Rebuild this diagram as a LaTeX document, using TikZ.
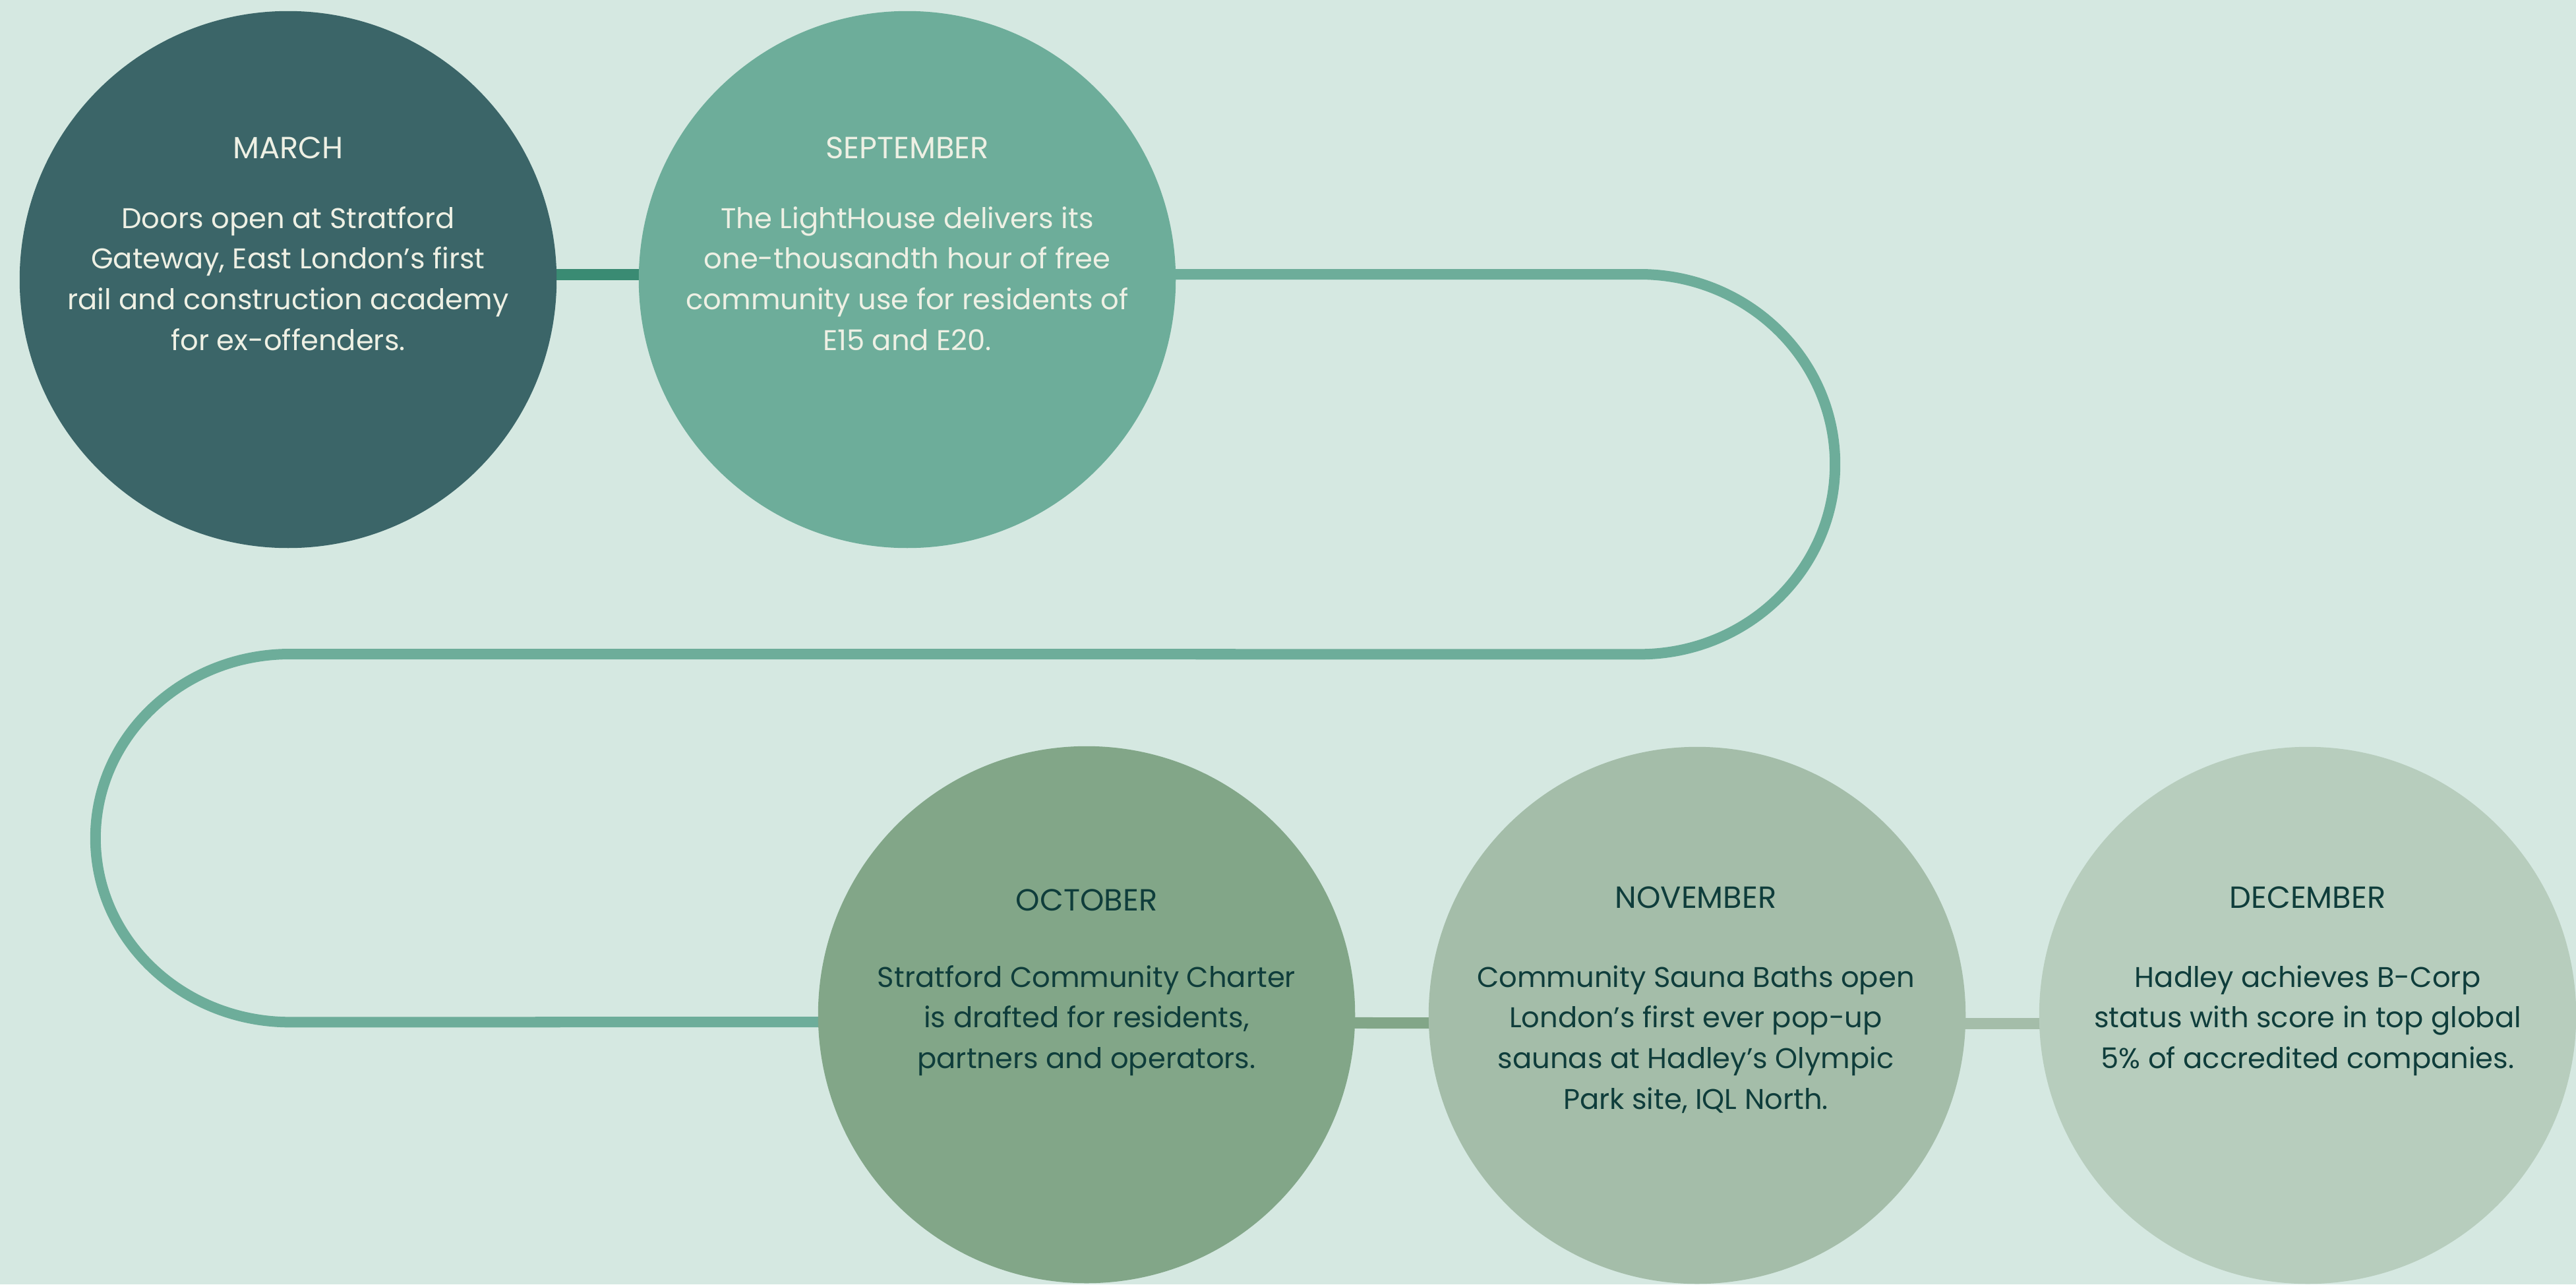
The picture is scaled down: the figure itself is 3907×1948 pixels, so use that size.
\documentclass[tikz,border=0pt]{standalone}
\usepackage{fontspec}
\setmainfont{Poppins}
\definecolor{mint}{HTML}{D5E8E1}
\definecolor{marchc}{HTML}{3B6568}
\definecolor{septc}{HTML}{6DAD9A}
\definecolor{octc}{HTML}{82A688}
\definecolor{novc}{HTML}{A4BDA9}
\definecolor{decc}{HTML}{B7CDBD}
\definecolor{linkdark}{HTML}{3A8B73}
\definecolor{lighttxt}{HTML}{EEF0E4}
\definecolor{darktxt}{HTML}{0F3D3B}
\pgfdeclarelayer{bg}
\pgfdeclarelayer{lines}
\pgfsetlayers{bg,lines,main}
\tikzset{
  disc/.style={circle, minimum size=8.14cm, inner sep=0pt, draw=none},
  trail/.style={line width=0.16cm, draw=septc},
  link/.style={line width=0.17cm},
  ttl/.style={inner sep=0pt, font=\fontsize{13.2}{18}\selectfont},
  body/.style={inner sep=0pt, align=center, font=\fontsize{12.3}{17.6}\selectfont},
}
\begin{document}
\begin{tikzpicture}[x=0.01cm, y=-0.01cm]
\begin{pgfonlayer}{bg}
  \fill[mint] (0,0) rectangle (3907,1948);
\end{pgfonlayer}
\useasboundingbox (0,0) rectangle (3907,1948);

% milestone discs
\node[disc, fill=marchc] (march) at (437,424) {};
\node[disc, fill=septc]  (sept)  at (1376,424) {};
\node[disc, fill=octc]   (oct)   at (1648,1539) {};
\node[disc, fill=novc]   (nov)   at (2574,1540) {};
\node[disc, fill=decc]   (dec)   at (3500,1540) {};

% connectors and the winding trail behind the discs
\begin{pgfonlayer}{lines}
  \draw[link, draw=linkdark] ([yshift=0.08cm]march.center) -- ([yshift=0.08cm]sept.center);
  \draw[trail] ([yshift=0.08cm]sept.center) -- (2487,416)
    arc[start angle=90, end angle=-90, x radius=2.96cm, y radius=2.88cm]
    -- (440,992)
    arc[start angle=90, end angle=270, x radius=2.95cm, y radius=2.79cm]
    -- ([yshift=-0.11cm]oct.center);
  \draw[link, draw=octc] ([yshift=-0.12cm]oct.center) -- ([yshift=-0.12cm]nov.center);
  \draw[link, draw=novc] ([yshift=-0.12cm]nov.center) -- ([yshift=-0.12cm]dec.center);
\end{pgfonlayer}

% labels
\node[ttl, text=lighttxt, anchor=base] (marchT) at (437,240) {MARCH};
\node[body, text=lighttxt, anchor=north] (marchB) at (437,302)
  {\strut Doors open at Stratford\\Gateway, East London’s first\\rail and construction academy\\for ex-offenders.};

\node[ttl, text=lighttxt, anchor=base] (septT) at (1376,240) {SEPTEMBER};
\node[body, text=lighttxt, anchor=north] (septB) at (1376,302)
  {\strut The LightHouse delivers its\\one-thousandth hour of free\\community use for residents of\\E15 and E20.};

\node[ttl, text=darktxt, anchor=base] (octT) at (1648,1381) {OCTOBER};
\node[body, text=darktxt, anchor=north] (octB) at (1648,1453)
  {\strut Stratford Community Charter\\is drafted for residents,\\partners and operators.};

\node[ttl, text=darktxt, anchor=base] (novT) at (2572,1377) {NOVEMBER};
\node[body, text=darktxt, anchor=north] (novB) at (2572,1453)
  {\strut Community Sauna Baths open\\London’s first ever pop-up\\saunas at Hadley’s Olympic\\Park site, IQL North.};

\node[ttl, text=darktxt, anchor=base] (decT) at (3500,1377) {DECEMBER};
\node[body, text=darktxt, anchor=north] (decB) at (3500,1453)
  {\strut Hadley achieves B-Corp\\status with score in top global\\5\% of accredited companies.};
\end{tikzpicture}
\end{document}
